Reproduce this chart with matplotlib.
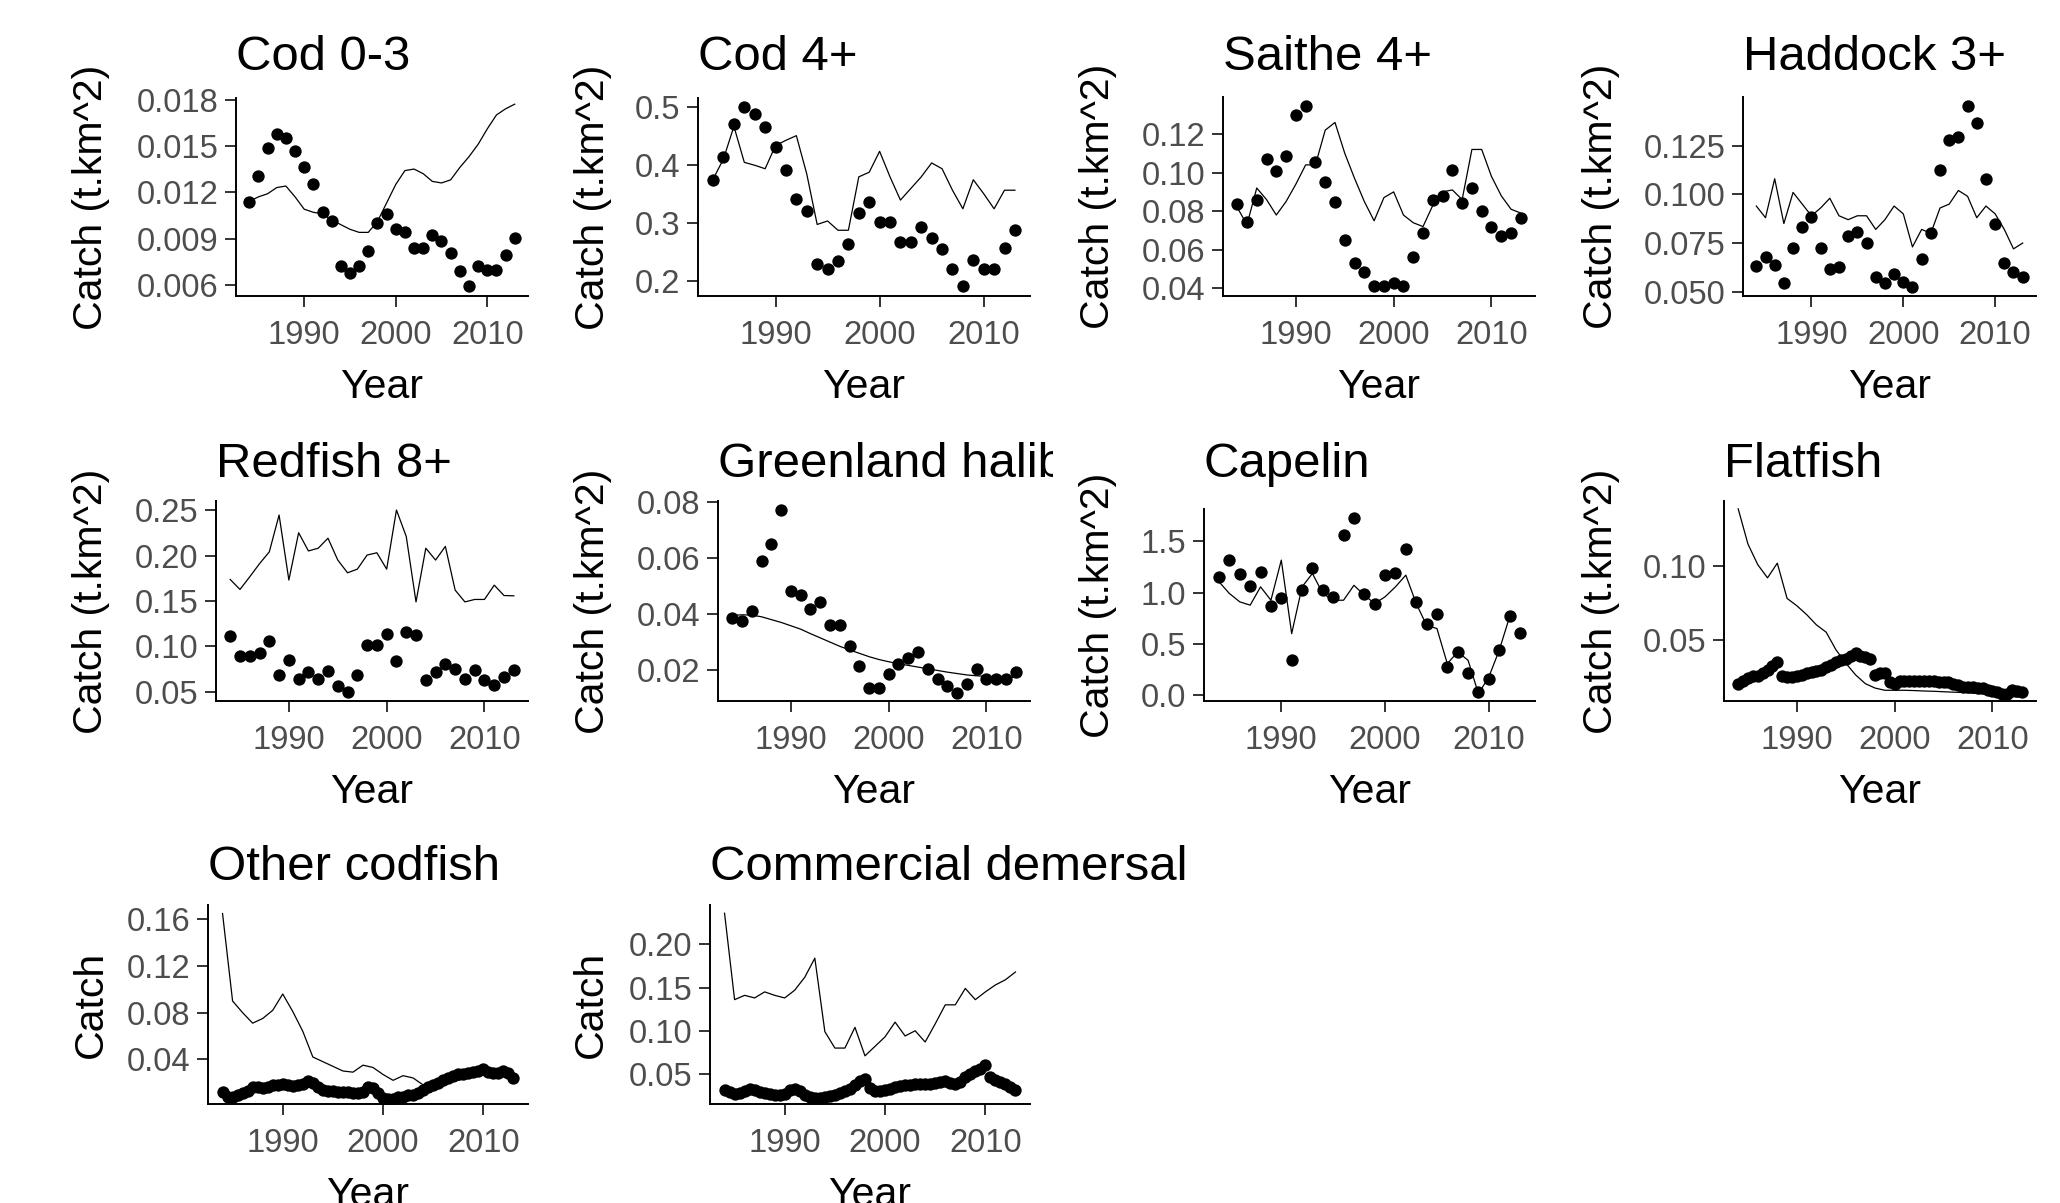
import numpy as np
import matplotlib.pyplot as plt
from matplotlib.transforms import Bbox, TransformedBbox

plt.rcParams['font.family'] = ['Liberation Sans', 'DejaVu Sans']

# ---- data ----
years = np.arange(1984, 2014)
half_years = np.arange(1984, 2013.01, 0.5)

titles = ['Cod 0-3', 'Cod 4+', 'Saithe 4+', 'Haddock 3+',
          'Redfish 8+', 'Greenland halibut', 'Capelin', 'Flatfish',
          'Other codfish', 'Commercial demersal']

cod03_obs = [0.01137, 0.01307, 0.01485, 0.0158, 0.0155, 0.0147, 0.01361, 0.01252, 0.01072, 0.01013,
             0.00724, 0.00676, 0.00724, 0.00822, 0.00998, 0.01057, 0.00959, 0.0094, 0.0084, 0.0084,
             0.00926, 0.00883, 0.00807, 0.00687, 0.0059, 0.00724, 0.00698, 0.00694, 0.00796, 0.00904]
cod03_model = [0.0114, 0.0117, 0.0119, 0.0123, 0.0124, 0.0117, 0.0109, 0.0107, 0.0106, 0.0102,
               0.0099, 0.0096, 0.0094, 0.0094, 0.0101, 0.0113, 0.0125, 0.0134, 0.0135, 0.0132,
               0.0127, 0.0126, 0.0128, 0.0136, 0.0143, 0.0151, 0.0161, 0.0170, 0.0174, 0.0177]

cod4_obs = [0.373, 0.413, 0.470, 0.500, 0.488, 0.465, 0.430, 0.391, 0.340, 0.320,
            0.229, 0.220, 0.234, 0.263, 0.316, 0.336, 0.301, 0.301, 0.267, 0.267,
            0.293, 0.273, 0.254, 0.221, 0.191, 0.236, 0.221, 0.220, 0.256, 0.288]
cod4_model = [0.375, 0.410, 0.466, 0.404, 0.399, 0.393, 0.433, 0.442, 0.450, 0.384,
              0.297, 0.303, 0.287, 0.287, 0.379, 0.387, 0.423, 0.379, 0.339, 0.359,
              0.379, 0.403, 0.393, 0.356, 0.324, 0.374, 0.350, 0.324, 0.356, 0.356]

saithe_obs = [0.0838, 0.0746, 0.0859, 0.107, 0.1006, 0.1084, 0.130, 0.1347, 0.1053, 0.095,
              0.0845, 0.0648, 0.0533, 0.0487, 0.0412, 0.0412, 0.043, 0.0412, 0.0561, 0.0689,
              0.0859, 0.088, 0.1011, 0.0842, 0.092, 0.0803, 0.0717, 0.0672, 0.0689, 0.0764]
saithe_model = [0.082, 0.073, 0.092, 0.086, 0.078, 0.085, 0.094, 0.104, 0.104, 0.122,
                0.126, 0.110, 0.097, 0.085, 0.075, 0.087, 0.090, 0.078, 0.074, 0.072,
                0.083, 0.090, 0.091, 0.086, 0.112, 0.112, 0.098, 0.088, 0.081, 0.079]

haddock_obs = [0.0632, 0.068, 0.0638, 0.0547, 0.0723, 0.0831, 0.0886, 0.0723, 0.0615, 0.0629,
               0.0787, 0.0809, 0.0752, 0.0577, 0.0543, 0.0591, 0.0552, 0.0526, 0.0667, 0.0804,
               0.1123, 0.128, 0.1295, 0.1456, 0.1367, 0.1078, 0.0849, 0.065, 0.0603, 0.0574]
haddock_model = [0.094, 0.088, 0.108, 0.085, 0.101, 0.095, 0.089, 0.093, 0.098, 0.089,
                 0.087, 0.089, 0.089, 0.082, 0.087, 0.094, 0.090, 0.073, 0.082, 0.080,
                 0.093, 0.095, 0.102, 0.099, 0.088, 0.094, 0.090, 0.082, 0.072, 0.075]

redfish_obs = [0.111, 0.0893, 0.0893, 0.093, 0.106, 0.0684, 0.0849, 0.0647, 0.072, 0.0647,
               0.0731, 0.0562, 0.050, 0.0684, 0.1014, 0.1014, 0.114, 0.0841, 0.116, 0.1124,
               0.0629, 0.072, 0.0812, 0.0757, 0.0647, 0.0746, 0.0629, 0.0573, 0.0665, 0.0746]
redfish_model = [0.1737, 0.1627, 0.1766, 0.191, 0.204, 0.2445, 0.173, 0.225, 0.205, 0.208,
                 0.219, 0.195, 0.181, 0.185, 0.2005, 0.203, 0.185, 0.25, 0.221, 0.149,
                 0.208, 0.195, 0.21, 0.162, 0.149, 0.1517, 0.1517, 0.1674, 0.156, 0.1557]

greenland_obs = [0.0386, 0.0374, 0.041, 0.0589, 0.0649, 0.077, 0.0482, 0.0466, 0.0418, 0.0442,
                 0.0359, 0.0359, 0.0287, 0.0216, 0.0138, 0.0138, 0.0188, 0.0222, 0.0245, 0.0266,
                 0.0204, 0.0168, 0.0144, 0.0117, 0.015, 0.0204, 0.0168, 0.0168, 0.0168, 0.0192]
greenland_model = [0.0395, 0.0397, 0.0396, 0.0390, 0.0380, 0.0370, 0.0358, 0.0346, 0.0330, 0.0315,
                   0.0300, 0.0285, 0.0272, 0.0260, 0.0248, 0.0238, 0.0230, 0.0223, 0.0217, 0.0211,
                   0.0205, 0.0199, 0.0193, 0.0188, 0.0183, 0.0180, 0.0178, 0.0176, 0.0175, 0.0174]

capelin_obs = [1.146, 1.315, 1.179, 1.062, 1.201, 0.867, 0.942, 0.347, 1.029, 1.234,
               1.023, 0.958, 1.558, 1.721, 0.984, 0.886, 1.169, 1.19, 1.419, 0.909,
               0.692, 0.795, 0.276, 0.422, 0.218, 0.032, 0.162, 0.445, 0.769, 0.607]
capelin_model = [1.104, 0.99, 0.909, 0.877, 1.055, 0.925, 1.315, 0.60, 1.055, 1.185,
                 0.99, 0.925, 0.925, 1.07, 0.974, 0.893, 0.958, 1.055, 1.169, 0.893,
                 0.682, 0.649, 0.308, 0.422, 0.341, 0.016, 0.179, 0.438, 0.763, np.nan]

# flatfish, other codfish and commercial demersal observations are twice a year
flatfish_obs = [0.020, 0.022, 0.024, 0.025, 0.0255, 0.027, 0.029, 0.032, 0.035, 0.025,
                0.0245, 0.0245, 0.025, 0.026, 0.027, 0.028, 0.0285, 0.029, 0.031, 0.033,
                0.035, 0.036, 0.037, 0.039, 0.041, 0.039, 0.038, 0.037, 0.026, 0.027,
                0.027, 0.021, 0.020, 0.022, 0.022, 0.022, 0.022, 0.022, 0.022, 0.022,
                0.0215, 0.021, 0.021, 0.021, 0.020, 0.019, 0.018, 0.018, 0.0175, 0.017,
                0.017, 0.016, 0.015, 0.014, 0.013, 0.013, 0.016, 0.015, 0.0145]
flatfish_model = [0.139, 0.115, 0.101, 0.092, 0.102, 0.078, 0.073, 0.067, 0.060, 0.055,
                  0.043, 0.034, 0.026, 0.020, 0.017, 0.0155, 0.0155, 0.0155, 0.0153, 0.015,
                  0.0148, 0.0145, 0.0142, 0.014, 0.0135, 0.013, 0.012, 0.0115, 0.011, 0.011]

other_obs = [0.012, 0.008, 0.008, 0.009, 0.011, 0.013, 0.016, 0.016, 0.015, 0.016,
             0.018, 0.018, 0.019, 0.018, 0.017, 0.018, 0.019, 0.021, 0.020, 0.016,
             0.014, 0.013, 0.013, 0.012, 0.012, 0.012, 0.011, 0.011, 0.012, 0.016,
             0.015, 0.011, 0.007, 0.006, 0.006, 0.008, 0.008, 0.009, 0.009, 0.011,
             0.014, 0.016, 0.018, 0.020, 0.022, 0.024, 0.026, 0.027, 0.027, 0.028,
             0.029, 0.030, 0.032, 0.029, 0.028, 0.028, 0.030, 0.028, 0.024]
other_model = [0.165, 0.090, 0.080, 0.071, 0.075, 0.082, 0.096, 0.081, 0.064, 0.042,
               0.038, 0.034, 0.030, 0.029, 0.035, 0.033, 0.027, 0.022, 0.026, 0.024,
               0.018, 0.016, 0.019, 0.021, 0.023, 0.025, 0.028, 0.027, 0.028, 0.026]

demersal_obs = [0.032, 0.029, 0.027, 0.028, 0.030, 0.033, 0.031, 0.029, 0.028, 0.027,
                0.026, 0.026, 0.027, 0.031, 0.033, 0.030, 0.026, 0.023, 0.022, 0.022,
                0.023, 0.025, 0.026, 0.028, 0.030, 0.033, 0.037, 0.042, 0.044, 0.034,
                0.030, 0.030, 0.031, 0.033, 0.035, 0.036, 0.037, 0.037, 0.038, 0.039,
                0.039, 0.039, 0.040, 0.041, 0.042, 0.040, 0.038, 0.041, 0.046, 0.050,
                0.053, 0.056, 0.060, 0.046, 0.043, 0.041, 0.038, 0.035, 0.031]
demersal_model = [0.236, 0.136, 0.141, 0.138, 0.145, 0.141, 0.138, 0.147, 0.162, 0.184,
                  0.099, 0.080, 0.080, 0.104, 0.071, 0.082, 0.093, 0.110, 0.094, 0.100,
                  0.087, 0.108, 0.130, 0.130, 0.149, 0.136, 0.145, 0.153, 0.159, 0.168]

obs_list = [cod03_obs, cod4_obs, saithe_obs, haddock_obs, redfish_obs,
            greenland_obs, capelin_obs, flatfish_obs, other_obs, demersal_obs]
model_list = [cod03_model, cod4_model, saithe_model, haddock_model, redfish_model,
              greenland_model, capelin_model, flatfish_model, other_model, demersal_model]

yticks = [[0.006, 0.009, 0.012, 0.015, 0.018], [0.2, 0.3, 0.4, 0.5],
          [0.04, 0.06, 0.08, 0.10, 0.12], [0.050, 0.075, 0.100, 0.125],
          [0.05, 0.10, 0.15, 0.20, 0.25], [0.02, 0.04, 0.06, 0.08],
          [0.0, 0.5, 1.0, 1.5], [0.05, 0.10],
          [0.04, 0.08, 0.12, 0.16], [0.05, 0.10, 0.15, 0.20]]
ydecimals = [3, 1, 2, 3, 2, 2, 1, 2, 2, 2]
ylims = [(0.00528, 0.0181), (0.1737, 0.5149), (0.036, 0.1392), (0.0478, 0.150),
         (0.0401, 0.2599), (0.00903, 0.0802), (-0.055, 1.812), (0.0082, 0.1443),
         (0.0017, 0.1723), (0.0153, 0.2455)]
ylabels = ['Catch (t.km^2)'] * 8 + ['Catch', 'Catch']

# ---- layout (pixels in the 2060x1203 image) ----
W, H = 2060, 1203
# left, right, top, bottom of each panel
boxes = [(236, 528, 98, 296), (698, 1030, 98, 296), (1223, 1535, 97, 296), (1743, 2036, 97, 296),
         (216, 528, 501, 701), (718, 1030, 501, 701), (1204, 1535, 509, 701), (1724, 2036, 501, 701),
         (208, 528, 905, 1104), (710, 1030, 905, 1104)]
ylab_x = [110, 612, 1117, 1620, 110, 612, 1117, 1620, 110, 610]
title_base = [70] * 4 + [477] * 4 + [880] * 2

fig = plt.figure(figsize=(W / 100, H / 100), dpi=100)

for i in range(10):
    L, R, T, B = boxes[i]
    ax = fig.add_axes([L / W, 1 - B / H, (R - L) / W, (B - T) / H])

    obs = obs_list[i]
    x_obs = years if len(obs) == len(years) else half_years
    ax.plot(years, model_list[i], color='black', lw=0.9)
    ax.plot(x_obs, obs, 'o', color='black', ms=8.9, mew=0)

    ax.set_xlim(1982.55, 2014.45)
    ax.set_ylim(*ylims[i])
    ax.set_xticks([1990, 2000, 2010])
    ax.set_yticks(yticks[i])
    ax.set_yticklabels([f'{v:.{ydecimals[i]}f}' for v in yticks[i]])

    # classic theme: only left and bottom axis lines
    for s in ['top', 'right']:
        ax.spines[s].set_visible(False)
    for s in ['left', 'bottom']:
        ax.spines[s].set_linewidth(1.4)
    ax.tick_params(length=8, width=1.4, color='#333333', labelcolor='#4D4D4D',
                   labelsize=23.6)
    ax.tick_params(axis='x', pad=9.5)
    ax.tick_params(axis='y', pad=4.8)

    ax.set_xlabel('Year', fontsize=29.5)
    ax.xaxis.set_label_coords(0.5, -72 / (B - T))
    ax.set_ylabel(ylabels[i], fontsize=29.5)
    ax.yaxis.set_label_coords((ylab_x[i] - L) / (R - L), 0.5)

    t = ax.set_title(titles[i], loc='left', fontsize=35.4,
                     pad=(T - title_base[i]) * 0.72)
    if i == 5:
        # long title gets cut at the edge of its cell
        clip = TransformedBbox(Bbox([[0, 0], [1053 / W, 1]]), fig.transFigure)
        t.set_clip_box(clip)
        t.set_clip_on(True)

fig.savefig('out.png', dpi=100)
